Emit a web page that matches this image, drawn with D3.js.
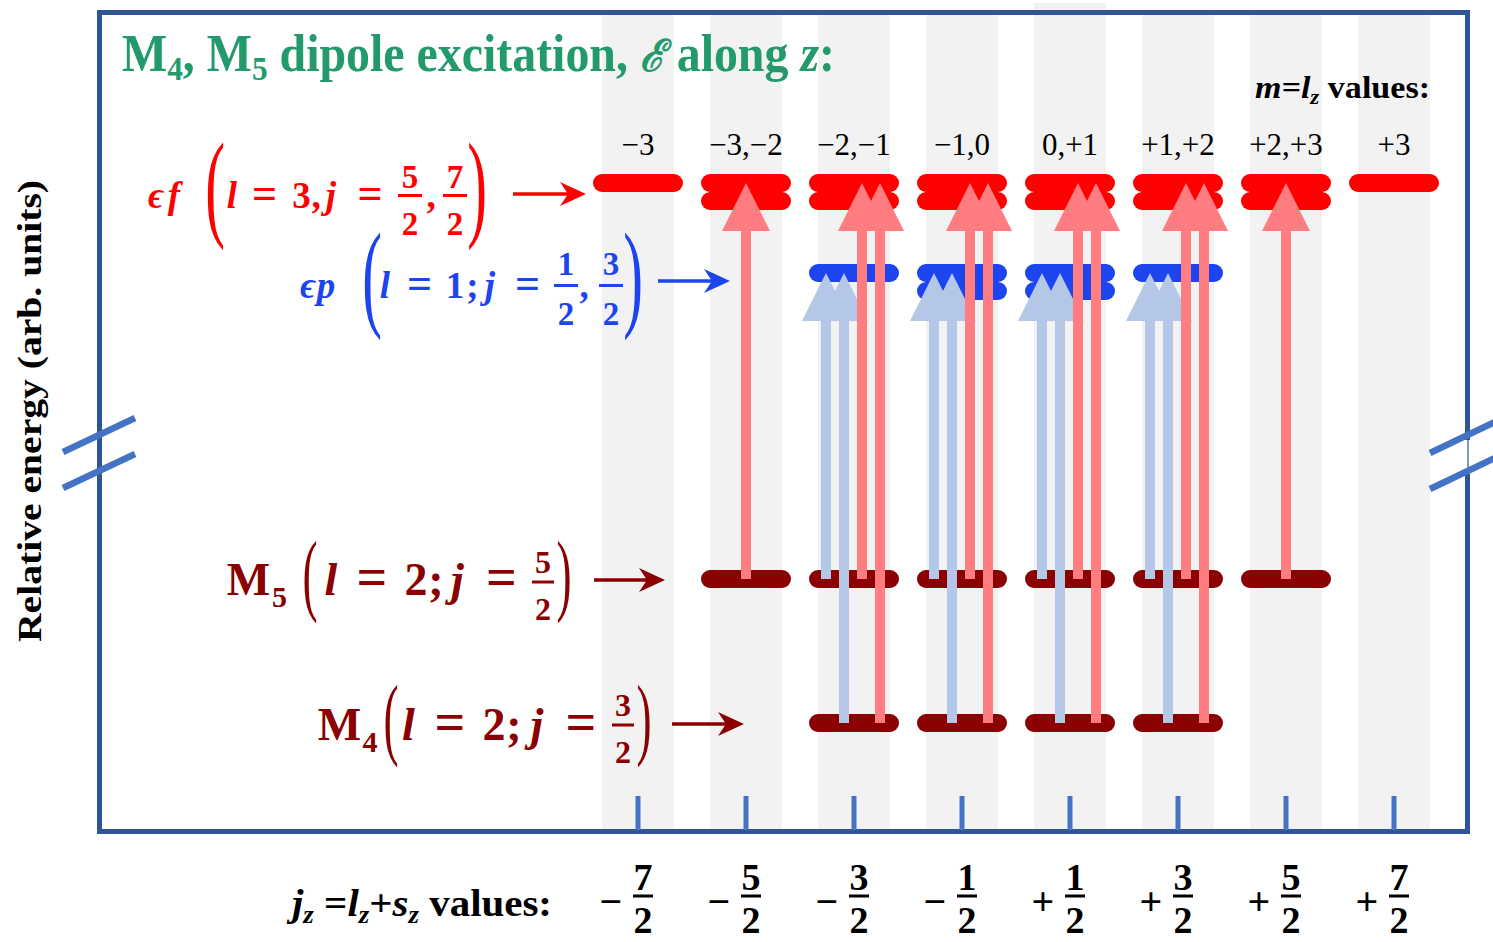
<!DOCTYPE html>
<html>
<head>
<meta charset="utf-8">
<script src="https://cdn.jsdelivr.net/npm/d3@7"></script>
<style>
  body { margin: 0; background: #fff; }
  svg { display: block; }
</style>
</head>
<body>
<svg id="chart" width="1493" height="942"></svg>
<script>
// Columns: jz = numerator / 2
const jzNumerators = [-7, -5, -3, -1, 1, 3, 5, 7];
const jzSigns = ["−", "−", "−", "−", "+", "+", "+", "+"];
const jzAbsNum = ["7", "5", "3", "1", "1", "3", "5", "7"];
const mlLabels = ["−3", "−3,−2", "−2,−1", "−1,0", "0,+1", "+1,+2", "+2,+3", "+3"];

// Sub-levels: shell, 2j, energy (arb. units)
const sublevelShell = ["ef", "ef", "ep", "ep", "M5", "M4"];
const sublevelJ2 = [7, 5, 3, 1, 5, 3];
const sublevelEnergy = [7.5, 7.25, 6.25, 6.0, 2.0, 0.0];

// Dipole transitions (E along z, Δm = 0), listed by 2·jz of the column
const blueFromM5 = [-3, -1, 1, 3];
const blueFromM4 = [-3, -1, 1, 3];
const redFromM5 = [-5, -3, -1, 1, 3, 5];
const redFromM4 = [-3, -1, 1, 3];

const serif = "'Liberation Serif','DejaVu Serif','Times New Roman',serif";
const C = {
  green: "#229a6b", red: "#ff0000", blue: "#1c45f0", dark: "#8b0000",
  arrowRed: "#ff7c80", arrowBlue: "#b4c7e7", frame: "#2f5597",
  tick: "#4472c4", band: "#f2f2f2"
};

const svg = d3.select("#chart");

const x = d3.scalePoint().domain(jzNumerators).range([638, 1394]);
const y = d3.scaleLinear().domain([0, 7.5]).range([723, 183]);
const bandW = 72, levelHalf = 36;

// background bands per column
svg.append("g").selectAll("rect").data(jzNumerators).join("rect")
  .attr("x", d => x(d) - bandW / 2).attr("y", d => d === 1 ? 3 : 15)
  .attr("width", bandW).attr("height", d => d === 1 ? 826 : 814)
  .attr("fill", C.band);

// frame
svg.append("rect").attr("x", 99.5).attr("y", 12.5).attr("width", 1368).attr("height", 819)
  .attr("fill", "none").attr("stroke", C.frame).attr("stroke-width", 5);

// axis break marks
svg.append("rect").attr("x", 1464).attr("y", 440).attr("width", 8).attr("height", 34).attr("fill", "#fff");
svg.append("line").attr("x1", 1468).attr("x2", 1468).attr("y1", 438).attr("y2", 476)
  .attr("stroke", C.frame).attr("stroke-width", 1.2);
const breaks = [
  [63, 452, 135, 418], [63, 488, 135, 454],
  [1430, 453, 1495, 422], [1430, 489, 1495, 458]
];
svg.append("g").selectAll("line").data(breaks).join("line")
  .attr("x1", d => d[0]).attr("y1", d => d[1]).attr("x2", d => d[2]).attr("y2", d => d[3])
  .attr("stroke", C.tick).attr("stroke-width", 6.5);

// bottom ticks
svg.append("g").selectAll("line").data(jzNumerators).join("line")
  .attr("x1", d => x(d)).attr("x2", d => x(d)).attr("y1", 796).attr("y2", 830)
  .attr("stroke", C.tick).attr("stroke-width", 5);

// energy levels
const levelColor = { ef: C.red, ep: C.blue, M5: C.dark, M4: C.dark };
const levelSegs = [];
sublevelShell.forEach((shell, i) => {
  jzNumerators.forEach(jz => {
    if (Math.abs(jz) <= sublevelJ2[i]) levelSegs.push({ shell, jz, e: sublevelEnergy[i] });
  });
});
levelSegs.sort((a, b) => a.e - b.e);
svg.append("g").selectAll("line").data(levelSegs).join("line")
  .attr("x1", d => x(d.jz) - levelHalf).attr("x2", d => x(d.jz) + levelHalf)
  .attr("y1", d => y(d.e)).attr("y2", d => y(d.e))
  .attr("stroke", d => levelColor[d.shell]).attr("stroke-width", 18)
  .attr("stroke-linecap", "round");

// transition arrows
const shellEnergy = s => sublevelEnergy[sublevelShell.indexOf(s)];
const transitions = [
  ...blueFromM5.map(jz => ({ jz, from: "M5", to: "ep", slot: "pM5" })),
  ...blueFromM4.map(jz => ({ jz, from: "M4", to: "ep", slot: "pM4" })),
  ...redFromM5.map(jz => ({ jz, from: "M5", to: "ef", slot: "fM5" })),
  ...redFromM4.map(jz => ({ jz, from: "M4", to: "ef", slot: "fM4" }))
];
const perColumn = d3.rollup(transitions, v => v.length, d => d.jz);
const slot = d3.scalePoint().domain(["pM5", "pM4", "fM5", "fM4"]).range([-28, 26]);
const shaft = 5, headHalf = 24, headLen = 48;
function arrowPath(d) {
  const cx = x(d.jz) + (perColumn.get(d.jz) > 1 ? slot(d.slot) : 0);
  const y0 = y(shellEnergy(d.from));
  const tip = y(d3.max(sublevelEnergy.filter((e, i) => sublevelShell[i] === d.to)));
  const hb = tip + headLen;
  return `M${cx - shaft},${y0}L${cx - shaft},${hb}L${cx - headHalf},${hb}L${cx},${tip}` +
    `L${cx + headHalf},${hb}L${cx + shaft},${hb}L${cx + shaft},${y0}Z`;
}
svg.append("g").selectAll("path").data(transitions).join("path")
  .attr("d", arrowPath)
  .attr("fill", d => d.to === "ep" ? C.arrowBlue : C.arrowRed);

// ---------- text ----------
function tok(g, s, cx, by, size, color, opts = {}) {
  return g.append("text").attr("x", cx).attr("y", by)
    .attr("text-anchor", opts.anchor || "middle")
    .attr("font-family", serif).attr("font-size", size)
    .attr("font-weight", opts.weight || "bold")
    .attr("font-style", opts.italic ? "italic" : "normal")
    .attr("fill", color).text(s);
}
function paren(g, ch, cx, top, bottom, color) {
  const fs = (bottom - top) / 0.86;
  const base = bottom - 0.185 * fs;
  g.append("text").attr("transform", `translate(${cx},${base}) scale(0.5,1)`)
    .attr("text-anchor", "middle").attr("font-family", serif)
    .attr("font-size", fs).attr("font-weight", "normal").attr("fill", color).text(ch);
}
function frac(g, num, den, cx, barY, numBase, denBase, size, half, color) {
  tok(g, num, cx, numBase, size, color);
  tok(g, den, cx, denBase, size, color);
  g.append("line").attr("x1", cx - half).attr("x2", cx + half).attr("y1", barY).attr("y2", barY)
    .attr("stroke", color).attr("stroke-width", 3);
}
function pointer(g, x0, x1, yy, color) {
  g.append("line").attr("x1", x0).attr("x2", x1 - 12).attr("y1", yy).attr("y2", yy)
    .attr("stroke", color).attr("stroke-width", 3.5);
  g.append("path")
    .attr("d", `M${x1},${yy}L${x1 - 26},${yy - 12}L${x1 - 18},${yy}L${x1 - 26},${yy + 12}Z`)
    .attr("fill", color);
}

const lab = svg.append("g");

// εf (l = 3, j = 5/2, 7/2)
{
  const c = C.red, s = 37, b = 208;
  tok(lab, "ϵ", 156, b, s, c, { italic: true });
  tok(lab, "f", 174, b, s, c, { italic: true });
  paren(lab, "(", 215, 145, 247, c);
  tok(lab, "l", 232, b, s, c, { italic: true });
  tok(lab, "=", 264.5, b, s + 7, c);
  tok(lab, "3", 301.5, b, s, c);
  tok(lab, ",", 316, b, s, c);
  tok(lab, "j", 331, b, s, c, { italic: true });
  tok(lab, "=", 370, b, s + 7, c);
  frac(lab, "5", "2", 410, 195.5, 188, 235, 33, 12, c);
  tok(lab, ",", 431, b, s, c);
  frac(lab, "7", "2", 455, 195.5, 188, 235, 33, 12, c);
  paren(lab, ")", 477, 145, 247, c);
  pointer(lab, 513, 586, 194, c);
}

// εp (l = 1; j = 1/2, 3/2)
{
  const c = C.blue, s = 37, b = 298;
  tok(lab, "ϵ", 308, b, s, c, { italic: true });
  tok(lab, "p", 326, b, s, c, { italic: true });
  paren(lab, "(", 372, 235, 337, c);
  tok(lab, "l", 385, b, s, c, { italic: true });
  tok(lab, "=", 419.5, b, s + 7, c);
  tok(lab, "1", 455, b, s, c);
  tok(lab, ";", 472.5, b, s, c);
  tok(lab, "j", 490, b, s, c, { italic: true });
  tok(lab, "=", 527.5, b, s + 7, c);
  frac(lab, "1", "2", 566, 285.5, 275, 325, 33, 12, c);
  tok(lab, ",", 584, b, s, c);
  frac(lab, "3", "2", 611, 285.5, 275, 325, 33, 12, c);
  paren(lab, ")", 633, 235, 337, c);
  pointer(lab, 658, 730, 281, c);
}

// M5 (l = 2; j = 5/2)
{
  const c = C.dark, s = 46, b = 595;
  tok(lab, "M", 248.5, b, s, c);
  tok(lab, "5", 279.5, 607, 30, c);
  paren(lab, "(", 310, 543, 621, c);
  tok(lab, "l", 331, b, s, c, { italic: true });
  tok(lab, "=", 372, b, s + 8, c);
  tok(lab, "2", 416, b, s, c);
  tok(lab, ";", 436, b, s, c);
  tok(lab, "j", 457.5, b, s, c, { italic: true });
  tok(lab, "=", 501.5, b, s + 8, c);
  frac(lab, "5", "2", 543, 582, 573, 620, 32, 11, c);
  paren(lab, ")", 564, 543, 621, c);
  pointer(lab, 594, 665, 580, c);
}

// M4 (l = 2; j = 3/2)
{
  const c = C.dark, s = 46, b = 740;
  tok(lab, "M", 339.5, b, s, c);
  tok(lab, "4", 370, 752, 30, c);
  paren(lab, "(", 391, 687, 765, c);
  tok(lab, "l", 408.5, b, s, c, { italic: true });
  tok(lab, "=", 450, b, s + 8, c);
  tok(lab, "2", 494, b, s, c);
  tok(lab, ";", 514, b, s, c);
  tok(lab, "j", 537, b, s, c, { italic: true });
  tok(lab, "=", 581, b, s + 8, c);
  frac(lab, "3", "2", 623, 725, 716, 763, 32, 11, c);
  paren(lab, ")", 644, 687, 765, c);
  pointer(lab, 672, 744, 724, c);
}

// title
const title = svg.append("text").attr("x", 122).attr("y", 71)
  .attr("font-family", serif).attr("font-weight", "bold").attr("font-size", 52)
  .attr("fill", C.green).attr("textLength", 713).attr("lengthAdjust", "spacingAndGlyphs");
title.append("tspan").text("M");
title.append("tspan").attr("font-size", 34).attr("dy", 9).text("4");
title.append("tspan").attr("dy", -9).text(", M");
title.append("tspan").attr("font-size", 34).attr("dy", 9).text("5");
title.append("tspan").attr("dy", -9).text(" dipole excitation, ");
title.append("tspan").attr("font-style", "italic").attr("font-family", "'DejaVu Serif',serif")
  .attr("font-size", 44).text("ℰ");
title.append("tspan").text(" along ");
title.append("tspan").attr("font-style", "italic").text("z");
title.append("tspan").text(":");

// m = lz header
const mh = svg.append("text").attr("x", 1255).attr("y", 98)
  .attr("font-family", serif).attr("font-weight", "bold").attr("font-size", 31)
  .attr("fill", "#000").attr("textLength", 175).attr("lengthAdjust", "spacingAndGlyphs");
mh.append("tspan").attr("font-style", "italic").text("m=l");
mh.append("tspan").attr("font-style", "italic").attr("font-size", 21).attr("dy", 6).text("z");
mh.append("tspan").attr("dy", -6).text(" values:");

// m labels per column
svg.append("g").selectAll("text").data(jzNumerators).join("text")
  .attr("x", d => x(d)).attr("y", 155)
  .attr("text-anchor", "middle").attr("font-family", serif).attr("font-size", 31)
  .attr("fill", "#000").text((d, i) => mlLabels[i]);

// jz axis caption
const jc = svg.append("text").attr("x", 292).attr("y", 916)
  .attr("font-family", serif).attr("font-weight", "bold").attr("font-size", 38)
  .attr("fill", "#000").attr("textLength", 260).attr("lengthAdjust", "spacingAndGlyphs");
jc.append("tspan").attr("font-style", "italic").text("j");
jc.append("tspan").attr("font-style", "italic").attr("font-size", 25).attr("dy", 7).text("z");
jc.append("tspan").attr("dy", -7).text(" =");
jc.append("tspan").attr("font-style", "italic").text("l");
jc.append("tspan").attr("font-style", "italic").attr("font-size", 25).attr("dy", 7).text("z");
jc.append("tspan").attr("dy", -7).text("+");
jc.append("tspan").attr("font-style", "italic").text("s");
jc.append("tspan").attr("font-style", "italic").attr("font-size", 25).attr("dy", 7).text("z");
jc.append("tspan").attr("dy", -7).text(" values:");

// jz fraction labels
const jzg = svg.append("g");
jzNumerators.forEach((d, i) => {
  const cx = x(d);
  tok(jzg, jzSigns[i], cx - 27, 915, 40, "#000");
  frac(jzg, jzAbsNum[i], "2", cx + 5, 896, 890, 933, 38, 10, "#000");
});

// y axis label
svg.append("text").attr("transform", "translate(41,411) rotate(-90)")
  .attr("text-anchor", "middle").attr("font-family", serif).attr("font-weight", "bold")
  .attr("font-size", 34).attr("fill", "#000").attr("textLength", 462)
  .attr("lengthAdjust", "spacingAndGlyphs").text("Relative energy (arb. units)");
</script>
</body>
</html>
